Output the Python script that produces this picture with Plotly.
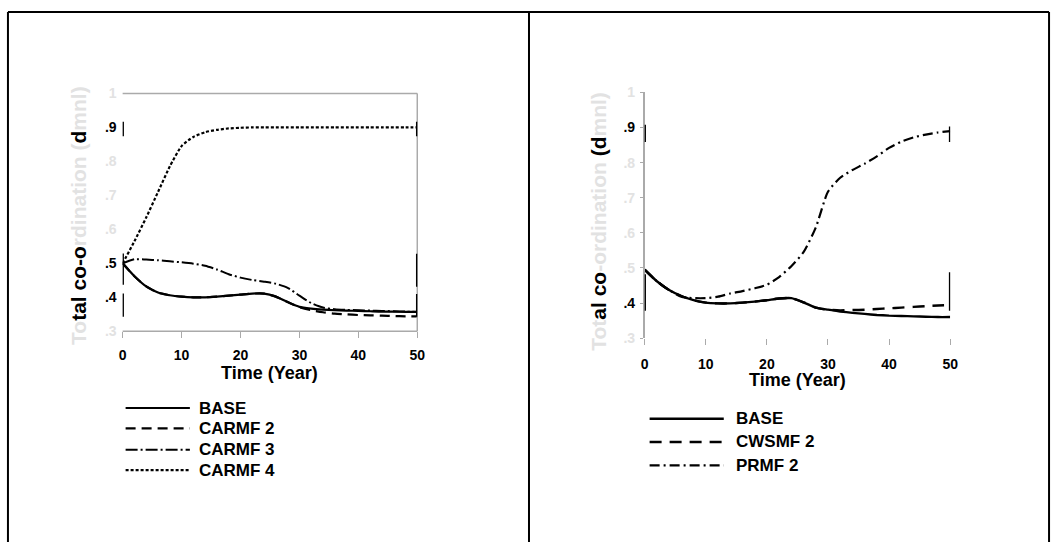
import plotly.graph_objects as go

# ---------------- data ----------------
years = [0, 2, 4, 6, 8, 10, 12, 14, 16, 18, 20, 22, 24, 26, 28, 30, 32, 34, 36, 38, 40, 42, 44, 46, 48, 50]

left_names = ["BASE", "CARMF 2", "CARMF 3", "CARMF 4"]
left_base = [0.500, 0.462, 0.432, 0.414, 0.406, 0.402, 0.400, 0.400, 0.402, 0.405, 0.408, 0.411, 0.411,
             0.402, 0.386, 0.372, 0.367, 0.364, 0.362, 0.361, 0.360, 0.359, 0.358, 0.358, 0.357, 0.357]
left_carmf2 = [0.500, 0.462, 0.432, 0.414, 0.406, 0.402, 0.400, 0.400, 0.402, 0.405, 0.408, 0.411, 0.411,
               0.402, 0.386, 0.371, 0.362, 0.356, 0.352, 0.350, 0.348, 0.347, 0.346, 0.345, 0.344, 0.344]
left_carmf3 = [0.500, 0.512, 0.511, 0.509, 0.506, 0.503, 0.499, 0.493, 0.482, 0.468, 0.458, 0.451, 0.446,
               0.440, 0.428, 0.405, 0.383, 0.370, 0.365, 0.363, 0.362, 0.361, 0.360, 0.359, 0.358, 0.357]
left_carmf4 = [0.500, 0.565, 0.635, 0.710, 0.785, 0.845, 0.872, 0.886, 0.893, 0.897, 0.899, 0.900, 0.900,
               0.900, 0.900, 0.900, 0.900, 0.900, 0.900, 0.900, 0.900, 0.900, 0.900, 0.900, 0.900, 0.900]

right_names = ["BASE", "CWSMF 2", "PRMF 2"]
right_base = [0.495, 0.462, 0.437, 0.420, 0.408, 0.401, 0.399, 0.399, 0.401, 0.404, 0.408, 0.413, 0.414,
              0.402, 0.387, 0.381, 0.376, 0.372, 0.369, 0.366, 0.364, 0.363, 0.362, 0.361, 0.360, 0.360]
right_cwsmf2 = [0.495, 0.462, 0.437, 0.420, 0.408, 0.401, 0.399, 0.399, 0.401, 0.404, 0.408, 0.413, 0.414,
                0.402, 0.387, 0.381, 0.379, 0.380, 0.381, 0.383, 0.385, 0.387, 0.389, 0.391, 0.393, 0.394]
right_prmf2 = [0.495, 0.462, 0.437, 0.418, 0.414, 0.414, 0.418, 0.427, 0.434, 0.442, 0.452, 0.474, 0.505,
               0.545, 0.615, 0.717, 0.757, 0.779, 0.797, 0.818, 0.842, 0.860, 0.872, 0.880, 0.886, 0.890]

x_ticks = [0, 10, 20, 30, 40, 50]
y_ticks = [0.3, 0.4, 0.5, 0.6, 0.7, 0.8, 0.9, 1.0]
y_tick_labels = [".3", ".4", ".5", ".6", ".7", ".8", ".9", "1"]
left_clear_ticks = [".4", ".5", ".9"]
right_clear_ticks = [".4", ".9"]

y_title = "Total co-ordination (dmnl)"
x_title = "Time (Year)"

# ---------------- styling ----------------
W, H = 1061, 550
FONT = "Liberation Sans, Arial, sans-serif"
FADE = "#e2e2e2"
AXGRAY = "#aaaaaa"

left_styles = [dict(dash="solid", width=2.2),
               dict(dash="10px,6px", width=2.2),
               dict(dash="12px,3px,2px,3px", width=2.0),
               dict(dash="3px,2px", width=2.2)]
right_styles = [dict(dash="solid", width=2.4),
                dict(dash="12px,8px", width=2.4),
                dict(dash="10px,4px,2px,4px", width=2.2)]


def px_x(v):
    return v / W


def px_y(v):
    return 1 - v / H


fig = go.Figure()

for name, ys, st in zip(left_names, [left_base, left_carmf2, left_carmf3, left_carmf4], left_styles):
    fig.add_trace(go.Scatter(x=years, y=ys, mode="lines", name=name, xaxis="x", yaxis="y",
                             line=dict(color="black", shape="spline", smoothing=0.6, **st),
                             showlegend=False))
for name, ys, st in zip(right_names, [right_base, right_cwsmf2, right_prmf2], right_styles):
    fig.add_trace(go.Scatter(x=years, y=ys, mode="lines", name=name, xaxis="x2", yaxis="y2",
                             line=dict(color="black", shape="spline", smoothing=0.6, **st),
                             showlegend=False))


def tick_text(labels, clear):
    return [l if l in clear else f'<span style="color:{FADE}">{l}</span>' for l in labels]


tickfont = dict(family=FONT, size=14, color="black", weight="bold")

fig.update_layout(
    width=W, height=H, autosize=False,
    margin=dict(l=0, r=0, t=0, b=0),
    paper_bgcolor="white", plot_bgcolor="white",
    xaxis=dict(domain=[px_x(120), px_x(418)], range=[0, 50], anchor="y",
               tickvals=x_ticks, ticks="outside", ticklen=6, tickcolor=AXGRAY,
               showgrid=False, zeroline=False, showline=False,
               tickfont=tickfont, ticklabelstandoff=5),
    yaxis=dict(domain=[px_y(333), px_y(88)], range=[0.3, 1.0], anchor="x",
               tickvals=y_ticks, ticktext=tick_text(y_tick_labels, left_clear_ticks),
               ticks="", showgrid=False, zeroline=False, showline=False,
               tickfont=tickfont, ticklabelstandoff=5),
    xaxis2=dict(domain=[px_x(648), px_x(957)], range=[0, 50], anchor="y2",
                tickvals=x_ticks, ticks="outside", ticklen=6, tickcolor=AXGRAY,
                showgrid=False, zeroline=False, showline=False,
                tickfont=tickfont, ticklabelstandoff=7),
    yaxis2=dict(domain=[px_y(340), px_y(87)], range=[0.3, 1.0], anchor="x2",
                tickvals=y_ticks, ticktext=tick_text(y_tick_labels, right_clear_ticks),
                ticks="outside", ticklen=3, tickcolor=AXGRAY,
                showgrid=False, zeroline=False, showline=True, linecolor=AXGRAY, linewidth=1.5,
                tickfont=tickfont, ticklabelstandoff=2),
)

shapes = []
# table cell borders
for x in [4, 531, 1057]:
    shapes.append(dict(type="line", xref="paper", yref="paper", x0=px_x(x), x1=px_x(x),
                       y0=0, y1=px_y(4), line=dict(color="black", width=2)))
shapes.append(dict(type="line", xref="paper", yref="paper", x0=px_x(4), x1=px_x(1057),
                   y0=px_y(4), y1=px_y(4), line=dict(color="black", width=2)))

# left plot frame: top, right, bottom
for (x0, y0, x1, y1) in [(0, 1, 1, 1), (1, 0, 1, 1), (0, 0, 1, 0)]:
    shapes.append(dict(type="line", xref="x domain", yref="y domain", x0=x0, y0=y0, x1=x1, y1=y1,
                       line=dict(color=AXGRAY, width=1.5)))

# heavy black marks on the axes
left_bars = [(0, 0.874, 0.917), (0, 0.437, 0.529), (0, 0.343, 0.411),
             (50, 0.874, 0.917), (50, 0.431, 0.528), (50, 0.343, 0.410)]
right_bars = [(0, 0.859, 0.908), (0, 0.378, 0.482), (50, 0.859, 0.903), (50, 0.378, 0.488)]
for (x, a, b) in left_bars:
    shapes.append(dict(type="line", xref="x", yref="y", x0=x, x1=x, y0=a, y1=b,
                       line=dict(color="black", width=2.6)))
for (x, a, b) in right_bars:
    shapes.append(dict(type="line", xref="x2", yref="y2", x0=x, x1=x, y0=a, y1=b,
                       line=dict(color="black", width=2.6)))

annotations = []
# custom legends
left_rows = [412, 433, 455, 476]
for name, st, yy in zip(left_names, left_styles, left_rows):
    shapes.append(dict(type="line", xref="paper", yref="paper", x0=px_x(123), x1=px_x(188),
                       y0=px_y(yy), y1=px_y(yy), line=dict(color="black", width=st["width"], dash=st["dash"])))
    annotations.append(dict(xref="paper", yref="paper", x=px_x(195), y=px_y(yy), xanchor="left",
                            yanchor="middle", showarrow=False, text=f"<b>{name}</b>",
                            font=dict(family=FONT, size=17, color="black")))
right_rows = [423, 447, 471]
for name, st, yy in zip(right_names, right_styles, right_rows):
    shapes.append(dict(type="line", xref="paper", yref="paper", x0=px_x(653), x1=px_x(728),
                       y0=px_y(yy), y1=px_y(yy), line=dict(color="black", width=st["width"], dash=st["dash"])))
    annotations.append(dict(xref="paper", yref="paper", x=px_x(738), y=px_y(yy), xanchor="left",
                            yanchor="middle", showarrow=False, text=f"<b>{name}</b>",
                            font=dict(family=FONT, size=17, color="black")))


# axis titles
def fade(s):
    return f'<span style="color:{FADE}">{s}</span>'


left_ytitle = "<b>" + fade(y_title[:2]) + y_title[2:10] + fade(y_title[10:21]) + y_title[21] + fade(y_title[22:]) + "</b>"
right_ytitle = "<b>" + fade(y_title[:3]) + y_title[3:8] + fade(y_title[8:20]) + y_title[20:22] + fade(y_title[22:]) + "</b>"

annotations.append(dict(xref="paper", yref="paper", x=px_x(76), y=px_y(214), textangle=-90,
                        xanchor="center", yanchor="middle", showarrow=False, text=left_ytitle,
                        font=dict(family=FONT, size=21, color="black")))
annotations.append(dict(xref="paper", yref="paper", x=px_x(601), y=px_y(220), textangle=-90,
                        xanchor="center", yanchor="middle", showarrow=False, text=right_ytitle,
                        font=dict(family=FONT, size=21, color="black")))
annotations.append(dict(xref="paper", yref="paper", x=px_x(269), y=px_y(376), xanchor="center",
                        yanchor="middle", showarrow=False, text=f"<b>{x_title}</b>",
                        font=dict(family=FONT, size=18, color="black")))
annotations.append(dict(xref="paper", yref="paper", x=px_x(803), y=px_y(383), xanchor="center",
                        yanchor="middle", showarrow=False, text=f"<b>{x_title}</b>",
                        font=dict(family=FONT, size=18, color="black")))

fig.update_layout(shapes=shapes, annotations=annotations)

fig.write_html("out.html")
